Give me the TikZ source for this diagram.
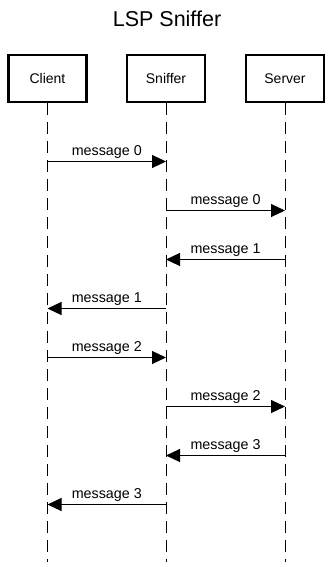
\documentclass[tikz,border=0pt]{standalone}
\usepackage{fontspec}
\setmainfont{Liberation Sans}
\usetikzlibrary{arrows.meta}
\begin{document}
\begin{tikzpicture}[x=1pt,y=-1pt,
  actor/.style={draw, line width=2.2pt, minimum width=78pt, minimum height=47pt, inner sep=0pt, font=\fontsize{14}{16}\selectfont},
  lifeline/.style={line width=1pt, dash pattern=on 12pt off 7pt},
  msg/.style={line width=1pt, -{Triangle[length=14pt,width=13pt]}},
  lbl/.style={anchor=base, yshift=6.5pt, inner sep=0pt, font=\fontsize{14.3}{16}\selectfont}]
\useasboundingbox (0,0) rectangle (334,567);
\node[anchor=base, inner sep=0pt, font=\fontsize{21.5}{24}\selectfont] (title) at (167,27) {LSP Sniffer};
\node[actor] (client) at (47.5,78.5) {Client};
\node[actor] (sniffer) at (166,78.5) {Sniffer};
\node[actor] (server) at (285,78.5) {Server};
\coordinate (cend) at (47.5,562);
\coordinate (send) at (166,562);
\coordinate (vend) at (285,562);
\draw[lifeline] (client.south) -- (cend);
\draw[lifeline] (sniffer.south) -- (send);
\draw[lifeline] (server.south) -- (vend);
% message coordinates
\foreach \i/\y in {1/161.5,2/210.5,3/259.5,4/308.5,5/357.5,6/406.5,7/455.5,8/504.5}{
  \coordinate (c\i) at (47.5,\y);
  \coordinate (s\i) at (166,\y);
  \coordinate (v\i) at (285,\y);
}
\draw[msg] (c1) -- node[lbl] (m1) {message 0} (s1);
\draw[msg] (s2) -- node[lbl] (m2) {message 0} (v2);
\draw[msg] (v3) -- node[lbl] (m3) {message 1} (s3);
\draw[msg] (s4) -- node[lbl] (m4) {message 1} (c4);
\draw[msg] (c5) -- node[lbl] (m5) {message 2} (s5);
\draw[msg] (s6) -- node[lbl] (m6) {message 2} (v6);
\draw[msg] (v7) -- node[lbl] (m7) {message 3} (s7);
\draw[msg] (s8) -- node[lbl] (m8) {message 3} (c8);
\end{tikzpicture}
\end{document}
